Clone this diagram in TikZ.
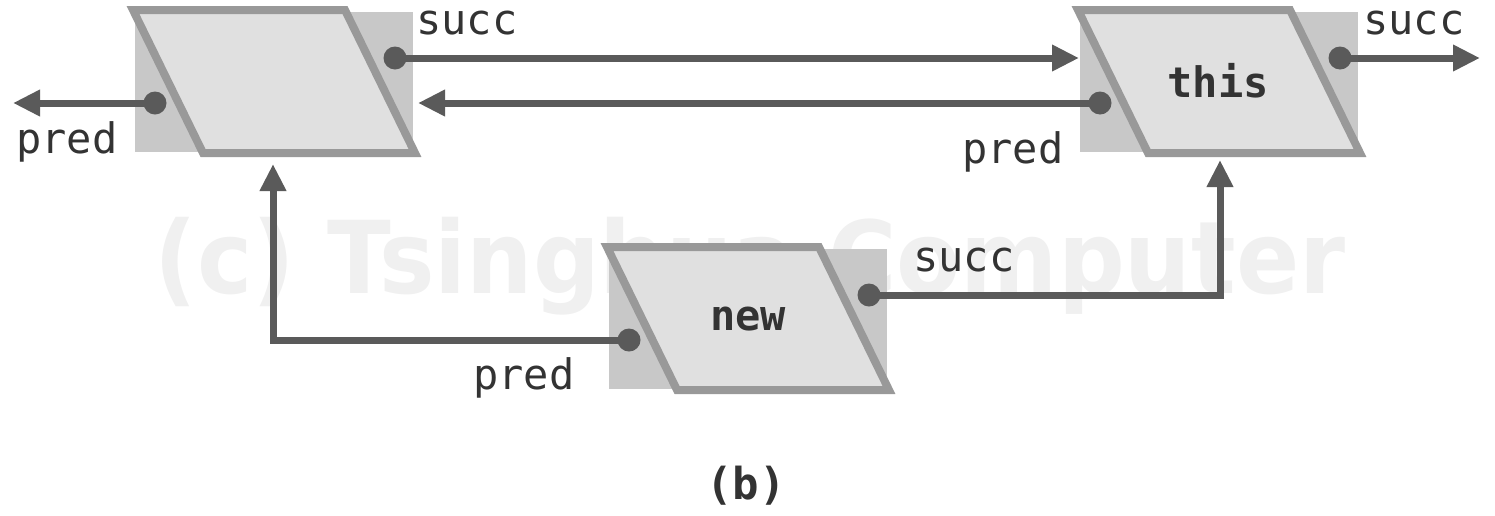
\documentclass[tikz,border=0pt]{standalone}
\usepackage{fontspec}
\usepackage{graphicx}
\setmonofont{DejaVu Sans Mono}
\newfontfamily\wmfont{DejaVu Sans}
\usetikzlibrary{arrows.meta}
\definecolor{shadowgray}{HTML}{C8C8C8}
\definecolor{cellfill}{HTML}{E0E0E0}
\definecolor{celledge}{HTML}{999999}
\definecolor{linkgray}{HTML}{5A5A5A}
\definecolor{textgray}{HTML}{333333}
\definecolor{wmgray}{HTML}{F0F0F0}
\tikzset{
  shadowbox/.style={fill=shadowgray, draw=none},
  cellshape/.style={fill=cellfill, draw=celledge, line width=8pt, line join=miter},
  celltext/.style={font=\ttfamily\bfseries\fontsize{42}{48}\selectfont, text=textgray, inner sep=0pt},
  ptrlabel/.style={font=\ttfamily\fontsize{42}{48}\selectfont, text=textgray, inner sep=0pt, anchor=base west},
  dot/.style={circle, fill=linkgray, inner sep=0pt, minimum size=23pt},
  conn/.style={draw=linkgray, line width=7pt, -{Triangle[length=27pt,width=25pt]}},
}
\newcommand{\cellat}[2]{%
  \fill[shadowbox] (#1+2,#2+2) rectangle (#1+280,#2+142);
  \draw[cellshape] (#1,#2) -- (#1+212,#2) -- (#1+282,#2+143) -- (#1+70,#2+143) -- cycle;
}
\begin{document}
\begin{tikzpicture}[x=1pt,y=-1pt]
\useasboundingbox (0,0) rectangle (1495,515);
% watermark
\node[text=wmgray, inner sep=0pt] (wm) at (750,266)
  {\resizebox*{1190pt}{98pt}{\wmfont\bfseries (c) Tsinghua Computer}};
% cells
\cellat{133}{10}
\cellat{1078}{10}
\cellat{607}{247}
\node[celltext] (first) at (273,81) {};
\node[celltext] (this) at (1218,81) {this};
\node[celltext] (new) at (748,319) {new};
% labels
\node[ptrlabel] (l1s) at (416,34) {succ};
\node[ptrlabel] (l1p) at (16,153) {pred};
\node[ptrlabel] (l2s) at (1363,34) {succ};
\node[ptrlabel] (l2p) at (962,163) {pred};
\node[ptrlabel] (l3s) at (913,271) {succ};
\node[ptrlabel] (l3p) at (473,389) {pred};
% dots
\node[dot] (d1s) at (395,58) {};
\node[dot] (d1p) at (155,103) {};
\node[dot] (d2s) at (1340,58) {};
\node[dot] (d2p) at (1100,103) {};
\node[dot] (d3s) at (869,295) {};
\node[dot] (d3p) at (629,340) {};
% endpoints
\coordinate (e1in) at (418,103);
\coordinate (e1out) at (13,103);
\coordinate (e1bot) at (273,164);
\coordinate (e2in) at (1079,58);
\coordinate (e2out) at (1480,58);
\coordinate (e2bot) at (1220,160);
% connectors
\draw[conn] (d1s.center) -- (e2in);
\draw[conn] (d2p.center) -- (e1in);
\draw[conn] (d1p.center) -- (e1out);
\draw[conn] (d2s.center) -- (e2out);
\draw[conn] (d3s.center) -| (e2bot);
\draw[conn] (d3p.center) -| (e1bot);
% caption
\node[font=\ttfamily\bfseries\fontsize{44}{50}\selectfont, text=textgray, inner sep=0pt] (cap) at (746,486) {(b)};
\end{tikzpicture}
\end{document}
